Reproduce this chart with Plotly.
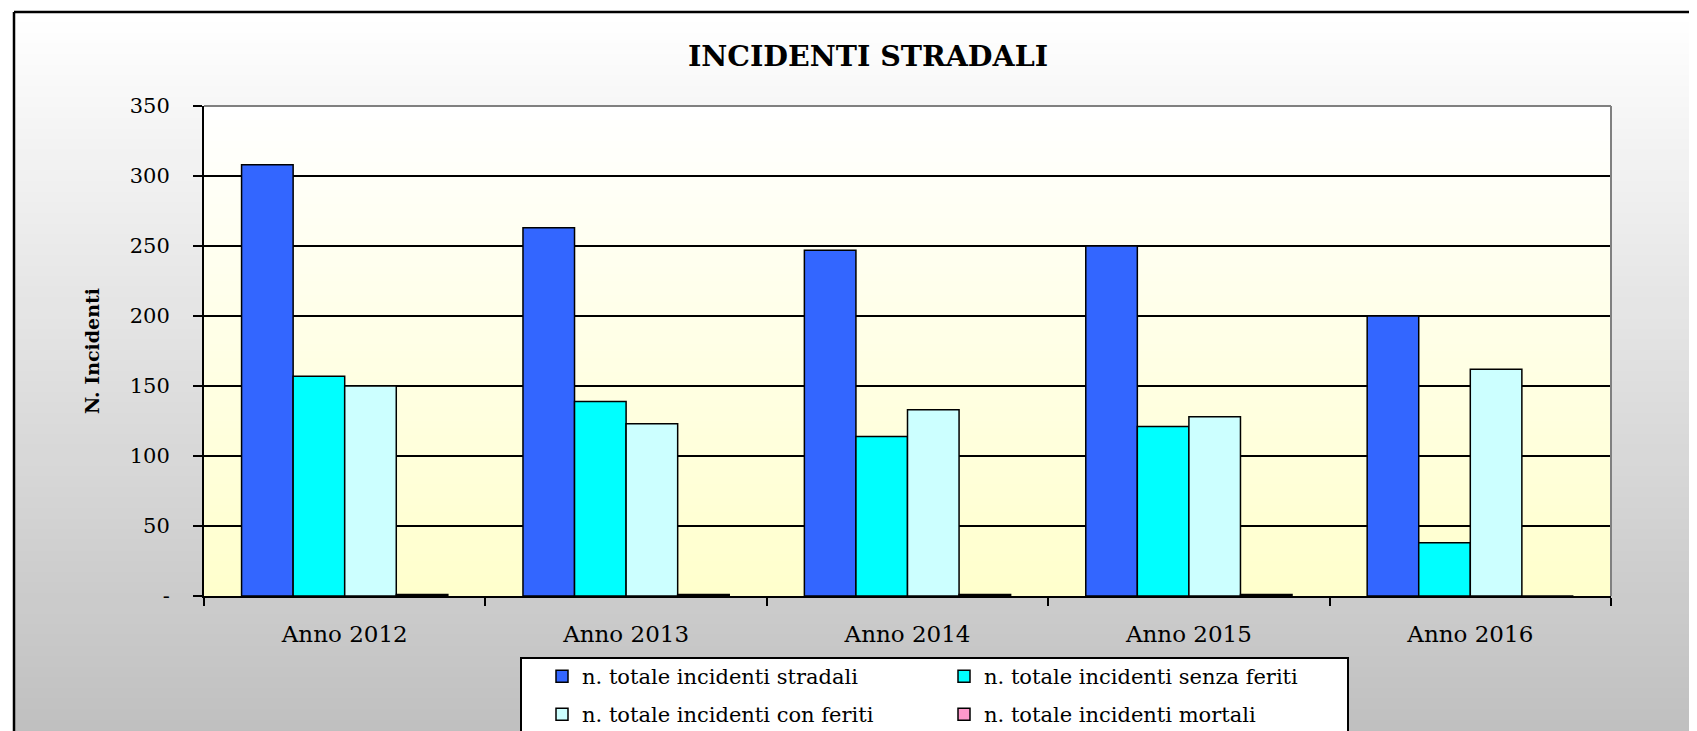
import plotly.graph_objects as go

# ---------------- data ----------------
categories = ["Anno 2012", "Anno 2013", "Anno 2014", "Anno 2015", "Anno 2016"]
series_names = [
    "n. totale incidenti stradali",
    "n. totale incidenti senza feriti",
    "n. totale incidenti con feriti",
    "n. totale incidenti mortali",
]
stradali = [308, 263, 247, 250, 200]
senza_feriti = [157, 139, 114, 121, 38]
con_feriti = [150, 123, 133, 128, 162]
mortali = [1, 1, 1, 1, 0]

y_tickvals = [0, 50, 100, 150, 200, 250, 300, 350]
y_ticktext = ["-", "50", "100", "150", "200", "250", "300", "350"]

colors = ["#3366FF", "#00FFFF", "#CCFFFF", "#FF99CC"]
legend_rows = ["legend", "legend", "legend2", "legend2"]

# ---------------- layout geometry ----------------
OFF = 8  # page body margin: screen px = figure px + OFF
W, H = 1697, 731
# plot area in screen pixels
SL, SR, ST, SB = 204, 1611, 106, 596
L, T = SL - OFF, ST - OFF
R, B = W - (SR - OFF), H - (SB - OFF)
PW, PH = W - L - R, H - T - B
FONT = "DejaVu Serif"


def sx(px):  # screen px -> paper x
    return (px - OFF - L) / PW


def sy(py):  # screen px -> paper y
    return (H - B - (py - OFF)) / PH


def lerp(c0, c1, t):
    return "rgb({},{},{})".format(*[round(a + (b - a) * t) for a, b in zip(c0, c1)])


fig = go.Figure()
for name, vals, col, lg in zip(series_names, [stradali, senza_feriti, con_feriti, mortali],
                               colors, legend_rows):
    fig.add_trace(go.Bar(
        name=name, x=categories, y=vals, legend=lg,
        marker=dict(color=col, line=dict(color="black", width=1.5)),
        hoverinfo="x+y+name",
    ))

shapes = []
# outer chart-area gradient (white -> gray) inside the frame
top_px, bot_px, left_px, right_px = 12, H + 20, 14, W + 20
n = 70
for i in range(n):
    y0 = top_px + (bot_px - top_px) * i / n
    y1 = top_px + (bot_px - top_px) * (i + 1) / n + 1
    t = (i + 0.5) / n
    shapes.append(dict(type="rect", xref="paper", yref="paper",
                       x0=sx(left_px), x1=sx(right_px), y0=sy(y1), y1=sy(y0),
                       line=dict(width=0), fillcolor=lerp((255, 255, 255), (190, 190, 190), t),
                       layer="below"))
# plot-area gradient (white -> light yellow)
for i in range(n):
    t = (i + 0.5) / n
    shapes.append(dict(type="rect", xref="paper", yref="paper",
                       x0=0, x1=1, y0=1 - (i + 1) / n - 0.002, y1=1 - i / n,
                       line=dict(width=0), fillcolor=lerp((255, 255, 255), (255, 255, 204), t),
                       layer="below"))
# frame of chart area (top + left; right/bottom lie off-canvas)
shapes.append(dict(type="line", xref="paper", yref="paper",
                   x0=sx(left_px), x1=sx(W + 30), y0=sy(top_px), y1=sy(top_px),
                   line=dict(color="black", width=2.5)))
shapes.append(dict(type="line", xref="paper", yref="paper",
                   x0=sx(left_px), x1=sx(left_px), y0=sy(top_px), y1=sy(H + 30),
                   line=dict(color="black", width=2.5)))
# gray plot-area border at top and right
shapes.append(dict(type="line", xref="paper", yref="paper", x0=0, x1=1, y0=1, y1=1,
                   line=dict(color="#808080", width=2)))
shapes.append(dict(type="line", xref="paper", yref="paper", x0=1, x1=1, y0=0, y1=1,
                   line=dict(color="#808080", width=2)))
# legend box (white with black border, bottom runs off-canvas)
shapes.append(dict(type="rect", xref="paper", yref="paper",
                   x0=sx(521), x1=sx(1348), y0=sy(H + 20), y1=sy(658),
                   line=dict(color="black", width=2), fillcolor="white", layer="above"))

legend_common = dict(orientation="h", xanchor="left", yanchor="top",
                     bgcolor="rgba(0,0,0,0)", borderwidth=0,
                     font=dict(family=FONT, size=21, color="black"),
                     entrywidth=357, entrywidthmode="pixels", traceorder="normal",
                     itemclick=False, itemdoubleclick=False)

fig.update_layout(
    width=W, height=H,
    margin=dict(l=L, r=R, t=T, b=B, autoexpand=False),
    paper_bgcolor="white", plot_bgcolor="rgba(0,0,0,0)",
    font=dict(family=FONT, size=22, color="black"),
    title=dict(text="<b>INCIDENTI STRADALI</b>", font=dict(family=FONT, size=28.5, color="black"),
               x=(868 - OFF) / W, xref="container", xanchor="center",
               y=1 - (56 - OFF) / H, yref="container", yanchor="middle"),
    barmode="group", bargap=0.267, bargroupgap=0,
    showlegend=True,
    legend=dict(x=sx(542), y=sy(656), **legend_common),
    legend2=dict(x=sx(542), y=sy(694), **legend_common),
    shapes=shapes,
)
fig.update_xaxes(
    type="category", range=[-0.5, 4.5], tickson="boundaries",
    ticks="outside", ticklen=8, tickwidth=2, tickcolor="black",
    showline=True, linecolor="black", linewidth=2,
    showgrid=False, tickfont=dict(size=23), ticklabelstandoff=16,
)
fig.update_yaxes(
    range=[0, 350], tickvals=y_tickvals, ticktext=y_ticktext,
    ticks="outside", ticklen=9, tickwidth=2, tickcolor="black",
    showline=True, linecolor="black", linewidth=2,
    showgrid=True, gridcolor="black", gridwidth=2, zeroline=False,
    tickfont=dict(size=21), ticklabelstandoff=19,
    title=dict(text="<b>N. Incidenti</b>", font=dict(size=19), standoff=25),
)

fig.write_html("out.html")
